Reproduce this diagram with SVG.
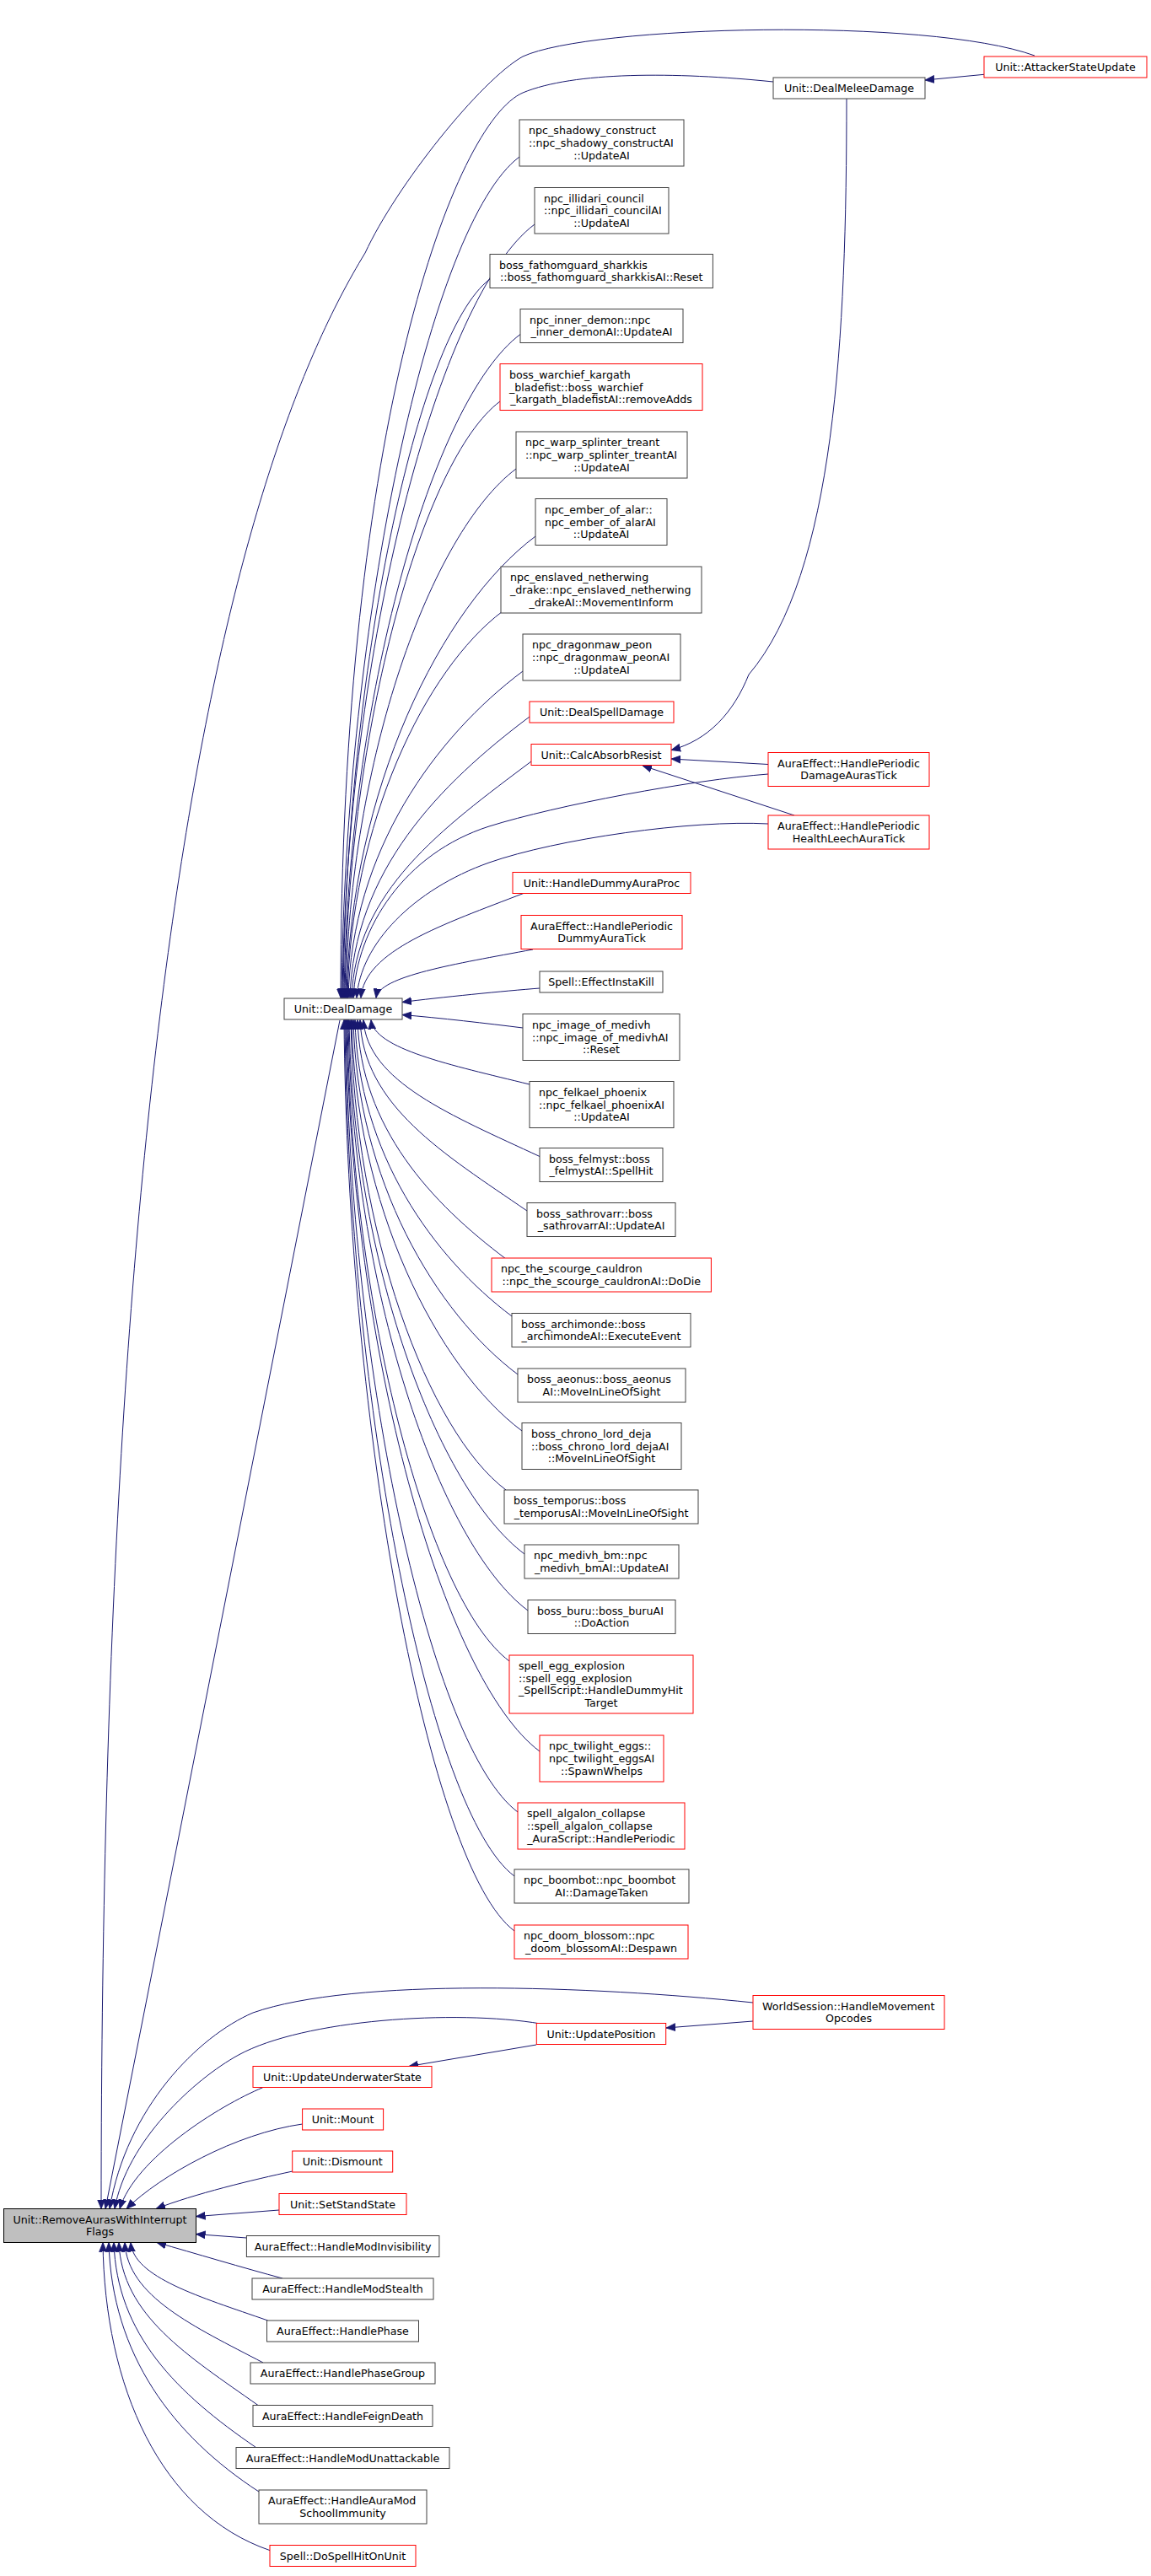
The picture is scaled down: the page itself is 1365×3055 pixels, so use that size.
<svg xmlns="http://www.w3.org/2000/svg" width="1365" height="3055" viewBox="0 0 1365 3055">
<style>
.n rect{fill:#fff;stroke:#404040;stroke-width:1}
.r rect{fill:#fff;stroke:#ff0000;stroke-width:1}
.g rect{fill:#bfbfbf;stroke:#000;stroke-width:1}
text{font-family:"DejaVu Sans",sans-serif;font-size:12.65px;fill:#000}
.m{text-anchor:middle}
.s{text-anchor:start}
#edges path{fill:none;stroke:#191970;stroke-width:1;marker-end:url(#a)}
</style>
<defs>
<marker id="a" markerWidth="12" markerHeight="10" refX="11" refY="5" orient="auto" markerUnits="userSpaceOnUse" viewBox="0 0 12 10"><path d="M0,0.5 L11,5 L0,9.5 z" fill="#191970" stroke="#191970" stroke-width="0.8"/></marker>
</defs>
<rect width="1365" height="3055" fill="#fff"/>
<g id="edges">
<path d="M1167,88.3 L1097,95"/>
<path d="M1227,66 C1100,20 700,30 620,67 C570,95 470,220 433,300 C277,555 120,1150 120,2619.5"/>
<path d="M917,97 C800,85 680,85 620,110 C540,145 404,500 404,1183.5"/>
<path d="M1004,117 C1004,400 990,680 888,800 C870,845 840,878 796,889.5"/>
<path d="M911,906.5 L796,900"/>
<path d="M942,967 L762,908"/>
<path d="M911,918 C820,925 660,955 580,980 C480,1012 423,1100 419,1183.5"/>
<path d="M911,977 C820,972 660,995 580,1023 C490,1055 427,1120 423,1183.5"/>
<path d="M616,186 C510.5,265.1 409.2,734.6 405,1183.5"/>
<path d="M634,266 C520,351.5 410.6,770.6 406,1183.5"/>
<path d="M581,331 C494,396.3 410.5,799.9 407,1183.5"/>
<path d="M617,396.5 C512.5,474.9 412.2,829.4 408,1183.5"/>
<path d="M593,476 C501,545 412.7,865.1 409,1183.5"/>
<path d="M612,556 C511,631.8 414,901.1 410,1183.5"/>
<path d="M635,636 C523,720 415.5,937.1 411,1183.5"/>
<path d="M596,725 C504,794 415.7,977.2 412,1183.5"/>
<path d="M620,796 C516.5,873.6 417.1,1009.1 413,1183.5"/>
<path d="M628,850 C521.5,929.9 419.3,1033.4 415,1183.5"/>
<path d="M630,903 C523.5,982.9 421.3,1057.3 417,1183.5"/>
<path d="M622,1059 C525,1096.4 431.9,1127.5 428,1183.5"/>
<path d="M632,1126 C539,1143.3 449.7,1157.6 446,1183.5"/>
<path d="M640,1172 C600,1175 520,1183 477,1188.5"/>
<path d="M620,1219 C580,1214 520,1207 477,1203.5"/>
<path d="M628,1286 C534,1263 443.8,1243.9 440,1209.5"/>
<path d="M640,1371.5 C535.5,1322.9 435.2,1282.4 431,1209.5"/>
<path d="M625,1436 C526,1368 431,1311.4 427,1209.5"/>
<path d="M600,1493 C512,1427 427.5,1337.1 424,1209.5"/>
<path d="M607,1561 C514,1491.2 424.7,1367.7 421,1209.5"/>
<path d="M614,1630 C516.5,1556.9 422.9,1398.7 419,1209.5"/>
<path d="M619,1697 C518,1621.2 421,1428.9 417,1209.5"/>
<path d="M600,1767 C508,1698 419.7,1460.4 416,1209.5"/>
<path d="M622,1843 C518,1765 418.2,1494.6 414,1209.5"/>
<path d="M626,1910 C519.5,1830.1 417.3,1524.7 413,1209.5"/>
<path d="M604,1970 C508,1898 415.8,1551.7 412,1209.5"/>
<path d="M640,2077 C525.5,1991.1 415.6,1599.9 411,1209.5"/>
<path d="M614,2149 C512,2072.5 414.1,1632.3 410,1209.5"/>
<path d="M610,2225 C509.5,2149.6 413,1666.5 409,1209.5"/>
<path d="M610,2290 C509,2214.2 412,1695.7 408,1209.5"/>
<path d="M403,1210 L125,2619.5"/>
<path d="M893,2397 L790,2405"/>
<path d="M893,2375 C700,2355 420,2345 300,2387 C235,2415 150,2500 130,2619.5"/>
<path d="M641,2400 C540,2383 360,2395 283,2437 C230,2466 150,2540 136,2619.5"/>
<path d="M636,2425 L485,2450.5"/>
<path d="M311.7,2475.7 C260,2497 160,2560 142,2619.5"/>
<path d="M358.6,2519 C280,2530 190,2580 150,2619.5"/>
<path d="M347,2575 C300,2585 230,2602 185,2619.5"/>
<path d="M331,2621 L232.5,2628.6"/>
<path d="M292.4,2654 L232.5,2649.6"/>
<path d="M335,2702 C290,2690 230,2672 186,2659.5"/>
<path d="M317.6,2752 C236.6,2723.8 158.3,2700.8 155,2659.5"/>
<path d="M312,2802 C230,2759.1 151.3,2723.5 148,2659.5"/>
<path d="M306,2852.5 C223.5,2794.1 144.3,2746 141,2659.5"/>
<path d="M303.5,2902.5 C210,2838.6 138.4,2768.5 135,2659.5"/>
<path d="M307,2955 C205,2888.6 132.6,2792.7 129,2659.5"/>
<path d="M320,3024.6 C190,2980 124,2830 122,2659.5"/>
</g>
<g id="AttackerStateUpdate" class="r"><rect x="1167" y="67" width="193" height="25"/><text class="m" x="1263.5" y="84">Unit::AttackerStateUpdate</text></g>
<g id="DealMeleeDamage" class="n"><rect x="917" y="92" width="180" height="25"/><text class="m" x="1007" y="109">Unit::DealMeleeDamage</text></g>
<g id="DamageAurasTick" class="r"><rect x="911" y="892.5" width="191" height="40"/><text class="s" x="922" y="909.7">AuraEffect::HandlePeriodic</text><text class="m" x="1006.5" y="924.3">DamageAurasTick</text></g>
<g id="HealthLeechAuraTick" class="r"><rect x="911" y="967" width="191" height="40"/><text class="s" x="922" y="984.2">AuraEffect::HandlePeriodic</text><text class="m" x="1006.5" y="998.8">HealthLeechAuraTick</text></g>
<g id="WorldSession" class="r"><rect x="893" y="2366.5" width="227" height="40"/><text class="s" x="904" y="2383.7">WorldSession::HandleMovement</text><text class="m" x="1006.5" y="2398.3">Opcodes</text></g>
<g id="shadowy" class="n"><rect x="616" y="142" width="195" height="55"/><text class="s" x="627" y="159.4">npc_shadowy_construct</text><text class="s" x="627" y="174">::npc_shadowy_constructAI</text><text class="m" x="713.5" y="188.6">::UpdateAI</text></g>
<g id="illidari" class="n"><rect x="634" y="222.5" width="159" height="54.5"/><text class="s" x="645" y="239.6">npc_illidari_council</text><text class="s" x="645" y="254.2">::npc_illidari_councilAI</text><text class="m" x="713.5" y="268.8">::UpdateAI</text></g>
<g id="sharkkis" class="n"><rect x="581" y="301.5" width="264.4" height="40"/><text class="s" x="592" y="318.7">boss_fathomguard_sharkkis</text><text class="m" x="713.2" y="333.3">::boss_fathomguard_sharkkisAI::Reset</text></g>
<g id="inner_demon" class="n"><rect x="617" y="366.5" width="193" height="40"/><text class="s" x="628" y="383.7">npc_inner_demon::npc</text><text class="m" x="713.5" y="398.3">_inner_demonAI::UpdateAI</text></g>
<g id="kargath" class="r"><rect x="593" y="431.5" width="240" height="55"/><text class="s" x="604" y="448.9">boss_warchief_kargath</text><text class="s" x="604" y="463.5">_bladefist::boss_warchief</text><text class="m" x="713" y="478.1">_kargath_bladefistAI::removeAdds</text></g>
<g id="warp_splinter" class="n"><rect x="612" y="512" width="203" height="55"/><text class="s" x="623" y="529.4">npc_warp_splinter_treant</text><text class="s" x="623" y="544">::npc_warp_splinter_treantAI</text><text class="m" x="713.5" y="558.6">::UpdateAI</text></g>
<g id="ember_of_alar" class="n"><rect x="635" y="591.5" width="156" height="55"/><text class="s" x="646" y="608.9">npc_ember_of_alar::</text><text class="s" x="646" y="623.5">npc_ember_of_alarAI</text><text class="m" x="713" y="638.1">::UpdateAI</text></g>
<g id="enslaved" class="n"><rect x="594" y="672" width="238" height="55"/><text class="s" x="605" y="689.4">npc_enslaved_netherwing</text><text class="s" x="605" y="704">_drake::npc_enslaved_netherwing</text><text class="m" x="713" y="718.6">_drakeAI::MovementInform</text></g>
<g id="dragonmaw" class="n"><rect x="620" y="752" width="187" height="55"/><text class="s" x="631" y="769.4">npc_dragonmaw_peon</text><text class="s" x="631" y="784">::npc_dragonmaw_peonAI</text><text class="m" x="713.5" y="798.6">::UpdateAI</text></g>
<g id="DealSpellDamage" class="r"><rect x="628" y="832" width="171" height="25"/><text class="m" x="713.5" y="849">Unit::DealSpellDamage</text></g>
<g id="CalcAbsorbResist" class="r"><rect x="630" y="882.5" width="166" height="25"/><text class="m" x="713" y="899.5">Unit::CalcAbsorbResist</text></g>
<g id="HandleDummyAuraProc" class="r"><rect x="608" y="1034.5" width="211" height="25"/><text class="m" x="713.5" y="1051.5">Unit::HandleDummyAuraProc</text></g>
<g id="DummyAuraTick" class="r"><rect x="618" y="1085.5" width="191" height="40"/><text class="s" x="629" y="1102.7">AuraEffect::HandlePeriodic</text><text class="m" x="713.5" y="1117.3">DummyAuraTick</text></g>
<g id="EffectInstaKill" class="n"><rect x="640" y="1152" width="146" height="25"/><text class="m" x="713" y="1169">Spell::EffectInstaKill</text></g>
<g id="image_of_medivh" class="n"><rect x="620" y="1202.5" width="186" height="55"/><text class="s" x="631" y="1219.9">npc_image_of_medivh</text><text class="s" x="631" y="1234.5">::npc_image_of_medivhAI</text><text class="m" x="713" y="1249.1">::Reset</text></g>
<g id="felkael" class="n"><rect x="628" y="1282.5" width="171" height="55"/><text class="s" x="639" y="1299.9">npc_felkael_phoenix</text><text class="s" x="639" y="1314.5">::npc_felkael_phoenixAI</text><text class="m" x="713.5" y="1329.1">::UpdateAI</text></g>
<g id="felmyst" class="n"><rect x="640" y="1361.5" width="146" height="40"/><text class="s" x="651" y="1378.7">boss_felmyst::boss</text><text class="m" x="713" y="1393.3">_felmystAI::SpellHit</text></g>
<g id="sathrovarr" class="n"><rect x="625" y="1426.5" width="176" height="40"/><text class="s" x="636" y="1443.7">boss_sathrovarr::boss</text><text class="m" x="713" y="1458.3">_sathrovarrAI::UpdateAI</text></g>
<g id="scourge_cauldron" class="r"><rect x="583" y="1492" width="260.4" height="40"/><text class="s" x="594" y="1509.2">npc_the_scourge_cauldron</text><text class="m" x="713.2" y="1523.8">::npc_the_scourge_cauldronAI::DoDie</text></g>
<g id="archimonde" class="n"><rect x="607" y="1557.5" width="212" height="40"/><text class="s" x="618" y="1574.7">boss_archimonde::boss</text><text class="m" x="713" y="1589.3">_archimondeAI::ExecuteEvent</text></g>
<g id="aeonus" class="n"><rect x="614" y="1623" width="199" height="40"/><text class="s" x="625" y="1640.2">boss_aeonus::boss_aeonus</text><text class="m" x="713.5" y="1654.8">AI::MoveInLineOfSight</text></g>
<g id="chrono_lord_deja" class="n"><rect x="619" y="1687.5" width="189" height="55"/><text class="s" x="630" y="1704.9">boss_chrono_lord_deja</text><text class="s" x="630" y="1719.5">::boss_chrono_lord_dejaAI</text><text class="m" x="713.5" y="1734.1">::MoveInLineOfSight</text></g>
<g id="temporus" class="n"><rect x="598" y="1767" width="230" height="40"/><text class="s" x="609" y="1784.2">boss_temporus::boss</text><text class="m" x="713" y="1798.8">_temporusAI::MoveInLineOfSight</text></g>
<g id="medivh_bm" class="n"><rect x="622" y="1832" width="183" height="40"/><text class="s" x="633" y="1849.2">npc_medivh_bm::npc</text><text class="m" x="713.5" y="1863.8">_medivh_bmAI::UpdateAI</text></g>
<g id="buru" class="n"><rect x="626" y="1897.5" width="175" height="40"/><text class="s" x="637" y="1914.7">boss_buru::boss_buruAI</text><text class="m" x="713.5" y="1929.3">::DoAction</text></g>
<g id="egg_explosion" class="r"><rect x="604" y="1963" width="218" height="69"/><text class="s" x="615" y="1980.1">spell_egg_explosion</text><text class="s" x="615" y="1994.7">::spell_egg_explosion</text><text class="s" x="615" y="2009.3">_SpellScript::HandleDummyHit</text><text class="m" x="713" y="2023.9">Target</text></g>
<g id="twilight_eggs" class="r"><rect x="640" y="2058" width="147" height="55"/><text class="s" x="651" y="2075.4">npc_twilight_eggs::</text><text class="s" x="651" y="2090">npc_twilight_eggsAI</text><text class="m" x="713.5" y="2104.6">::SpawnWhelps</text></g>
<g id="algalon_collapse" class="r"><rect x="614" y="2138" width="198" height="55"/><text class="s" x="625" y="2155.4">spell_algalon_collapse</text><text class="s" x="625" y="2170">::spell_algalon_collapse</text><text class="m" x="713" y="2184.6">_AuraScript::HandlePeriodic</text></g>
<g id="boombot" class="n"><rect x="610" y="2217" width="207" height="40"/><text class="s" x="621" y="2234.2">npc_boombot::npc_boombot</text><text class="m" x="713.5" y="2248.8">AI::DamageTaken</text></g>
<g id="doom_blossom" class="r"><rect x="610" y="2283" width="206" height="40"/><text class="s" x="621" y="2300.2">npc_doom_blossom::npc</text><text class="m" x="713" y="2314.8">_doom_blossomAI::Despawn</text></g>
<g id="UpdatePosition" class="r"><rect x="636.3" y="2399.5" width="153.4" height="25"/><text class="m" x="713" y="2416.5">Unit::UpdatePosition</text></g>
<g id="DealDamage" class="n"><rect x="337" y="1184" width="140" height="25"/><text class="m" x="407" y="1201">Unit::DealDamage</text></g>
<g id="UpdateUnderwaterState" class="r"><rect x="300" y="2450.5" width="212" height="25"/><text class="m" x="406" y="2467.5">Unit::UpdateUnderwaterState</text></g>
<g id="Mount" class="r"><rect x="358.6" y="2501" width="96" height="25"/><text class="m" x="406.6" y="2518">Unit::Mount</text></g>
<g id="Dismount" class="r"><rect x="346.7" y="2551" width="119" height="25"/><text class="m" x="406.2" y="2568">Unit::Dismount</text></g>
<g id="SetStandState" class="r"><rect x="331" y="2601.5" width="151" height="25"/><text class="m" x="406.5" y="2618.5">Unit::SetStandState</text></g>
<g id="HandleModInvisibility" class="n"><rect x="292.4" y="2651.5" width="228.5" height="25"/><text class="m" x="406.6" y="2668.5">AuraEffect::HandleModInvisibility</text></g>
<g id="HandleModStealth" class="n"><rect x="299" y="2702" width="215" height="25"/><text class="m" x="406.5" y="2719">AuraEffect::HandleModStealth</text></g>
<g id="HandlePhase" class="n"><rect x="316.5" y="2752" width="180" height="25"/><text class="m" x="406.5" y="2769">AuraEffect::HandlePhase</text></g>
<g id="HandlePhaseGroup" class="n"><rect x="297" y="2802" width="219" height="25"/><text class="m" x="406.5" y="2819">AuraEffect::HandlePhaseGroup</text></g>
<g id="HandleFeignDeath" class="n"><rect x="300" y="2852.5" width="213" height="25"/><text class="m" x="406.5" y="2869.5">AuraEffect::HandleFeignDeath</text></g>
<g id="HandleModUnattackable" class="n"><rect x="280" y="2902.5" width="253" height="25"/><text class="m" x="406.5" y="2919.5">AuraEffect::HandleModUnattackable</text></g>
<g id="HandleAuraModSchoolImmunity" class="n"><rect x="307" y="2953" width="199" height="40"/><text class="s" x="318" y="2970.2">AuraEffect::HandleAuraMod</text><text class="m" x="406.5" y="2984.8">SchoolImmunity</text></g>
<g id="DoSpellHitOnUnit" class="r"><rect x="320" y="3018.5" width="173" height="25"/><text class="m" x="406.5" y="3035.5">Spell::DoSpellHitOnUnit</text></g>
<g id="RemoveAurasWithInterruptFlags" class="g"><rect x="4.5" y="2619.5" width="228" height="40"/><text class="s" x="15.5" y="2636.7">Unit::RemoveAurasWithInterrupt</text><text class="m" x="118.5" y="2651.3">Flags</text></g>
</svg>
